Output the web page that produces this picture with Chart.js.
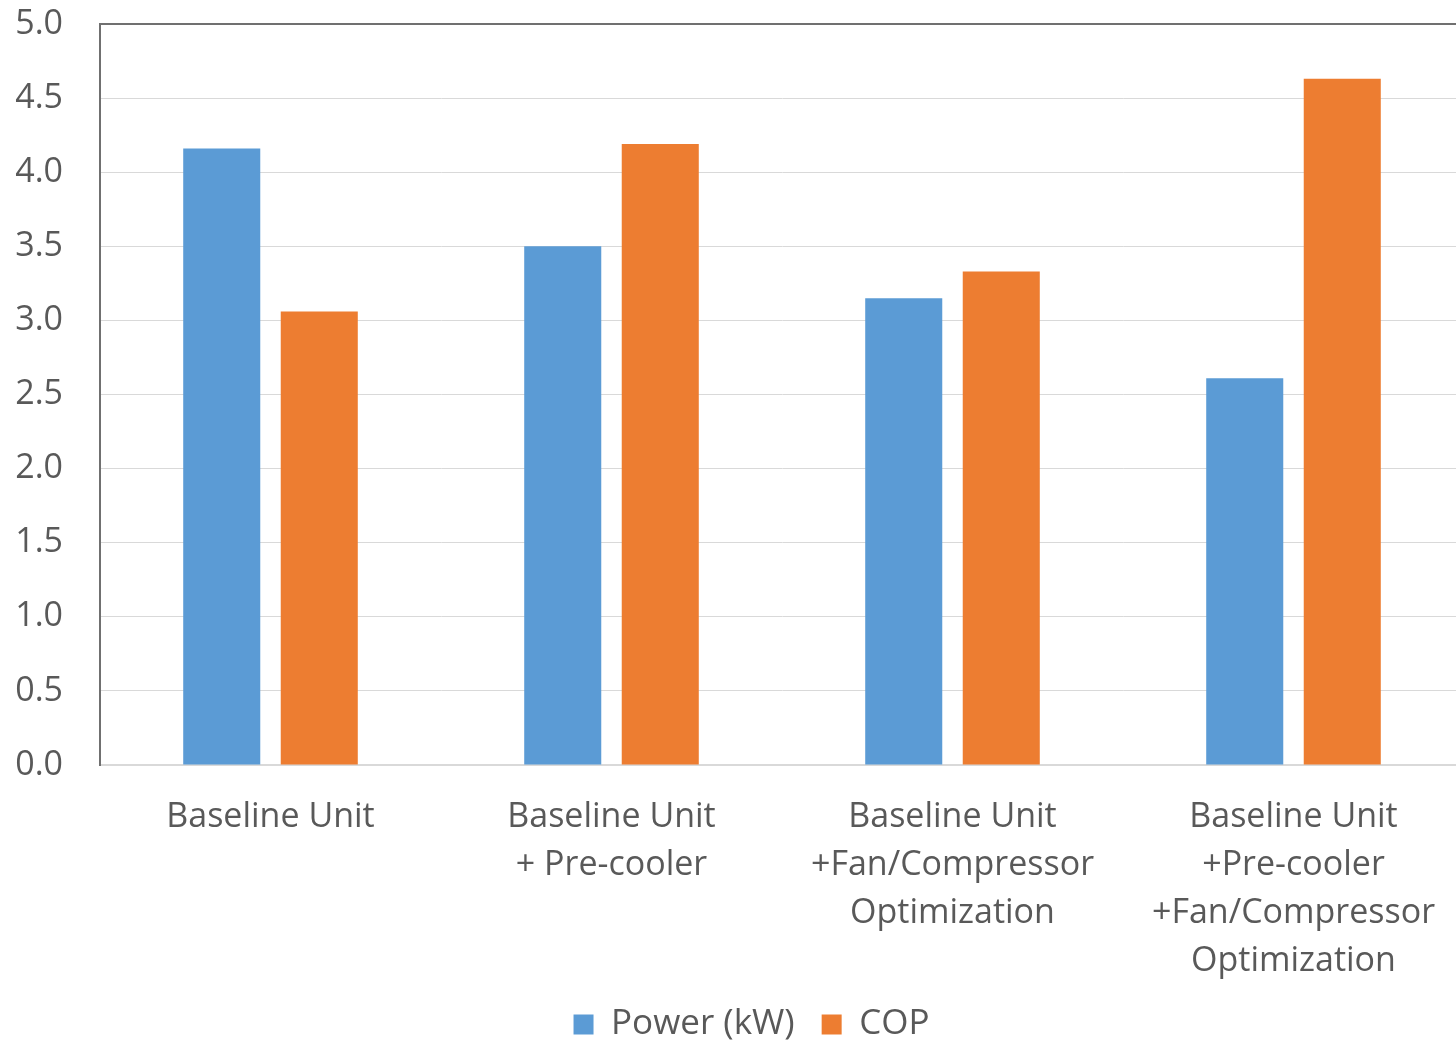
<!DOCTYPE html>
<html>
<head>
<meta charset="utf-8">
<script src="https://cdn.jsdelivr.net/npm/chart.js@4.4.1/dist/chart.umd.min.js"></script>
<style>
  html, body { margin: 0; padding: 0; background: #fff; overflow: hidden; }
  #wrap { position: relative; width: 1502px; height: 1043px; }
</style>
</head>
<body>
<div id="wrap"><canvas id="chart"></canvas></div>
<script>
// categories and series values
const categories = [
    ['Baseline Unit'],
    ['Baseline Unit', '+ Pre-cooler'],
    ['Baseline Unit', '+Fan/Compressor', 'Optimization'],
    ['Baseline Unit', '+Pre-cooler', '+Fan/Compressor', 'Optimization']
];
const powerKW = [4.16, 3.50, 3.15, 2.61];
const cop = [3.06, 4.19, 3.33, 4.63];
const yTicks = [0, 0.5, 1.0, 1.5, 2.0, 2.5, 3.0, 3.5, 4.0, 4.5, 5.0];

const FONT = '"Open Sans", sans-serif';
const TEXT = '#595959';

new Chart(document.getElementById('chart'), {
    type: 'bar',
    data: {
        labels: categories,
        datasets: [
            {
                label: 'Power (kW)',
                data: powerKW,
                backgroundColor: '#5B9BD5',
                categoryPercentage: 0.572,
                barPercentage: 0.79
            },
            {
                label: 'COP',
                data: cop,
                backgroundColor: '#ED7D31',
                categoryPercentage: 0.572,
                barPercentage: 0.79
            }
        ]
    },
    options: {
        responsive: true,
        maintainAspectRatio: false,
        animation: false,
        layout: { padding: { left: 1, right: 0, top: 24, bottom: -9 } },
        plugins: {
            tooltip: { enabled: false },
            legend: {
                position: 'bottom',
                labels: {
                    color: TEXT,
                    font: { family: FONT, size: 35 },
                    boxWidth: 20,
                    boxHeight: 20,
                    padding: 27
                }
            }
        },
        scales: {
            x: {
                afterFit: (scale) => { scale.height = 215; },
                grid: { display: false, drawTicks: false },
                border: { color: '#d9d9d9', width: 2 },
                ticks: {
                    color: TEXT,
                    font: { family: FONT, size: 34, lineHeight: 48 / 34 },
                    padding: 28,
                    maxRotation: 0,
                    autoSkip: false
                }
            },
            xTop: {
                position: 'top',
                afterFit: (scale) => { scale.height = 0; },
                grid: { display: false, drawTicks: false },
                border: { color: '#707070', width: 2 },
                ticks: { display: false }
            },
            y: {
                min: 0,
                max: 5,
                afterBuildTicks: (scale) => {
                    scale.ticks = yTicks.map(v => ({ value: v }));
                },
                afterFit: (scale) => { scale.width = 99; },
                grid: {
                    color: '#d9d9d9',
                    lineWidth: 1,
                    drawTicks: true,
                    tickLength: 37,
                    tickColor: 'rgba(0,0,0,0)'
                },
                border: { color: '#707070', width: 2 },
                ticks: {
                    color: TEXT,
                    font: { family: FONT, size: 34 },
                    padding: 0,
                    callback: (v) => Number(v).toFixed(1)
                }
            },
            // empty strip on the right so the legend sits where it should
            yRight: {
                type: 'linear',
                position: 'right',
                afterFit: (scale) => { scale.width = 38; },
                grid: { display: false, drawTicks: false },
                border: { display: false },
                ticks: { display: false }
            }
        }
    }
});
</script>
</body>
</html>
